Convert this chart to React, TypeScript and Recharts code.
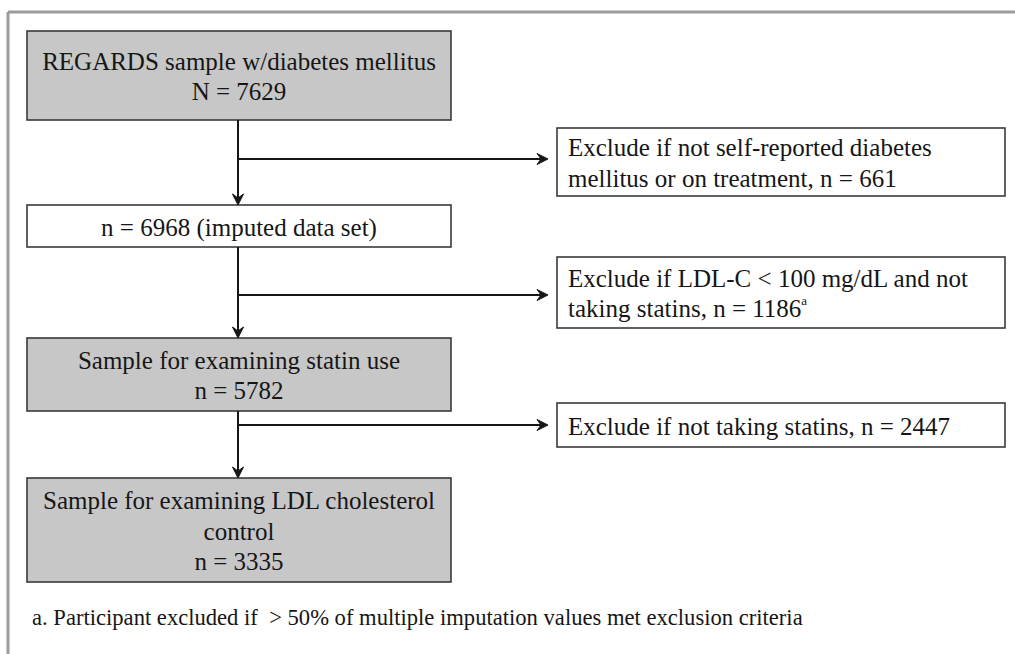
import React from "react";
import {
  ComposedChart,
  XAxis,
  YAxis,
  ReferenceArea,
  ReferenceLine,
  ReferenceDot,
} from "recharts";

const W = 1015;
const H = 654;
const FONT = '"Liberation Serif", "Times New Roman", serif';
const INK = "#161616";

// sample sizes at each step
const stepCounts = [7629, 6968, 5782, 3335];
const stepPrefix = ["N", "n", "n", "n"];
const stepTitles = [
  ["REGARDS sample w/diabetes mellitus"],
  [],
  ["Sample for examining statin use"],
  ["Sample for examining LDL cholesterol", "control"],
];
const stepSuffix = ["", " (imputed data set)", "", ""];
const stepShaded = [true, false, true, true];

// exclusions between steps
const excludedCounts = [661, 1186, 2447];
const exclusionText = [
  ["Exclude if not self-reported diabetes", "mellitus or on treatment, n = "],
  ["Exclude if LDL-C < 100 mg/dL and not", "taking statins, n = "],
  ["Exclude if not taking statins, n = "],
];
const exclusionNote = ["", "a", ""];

const footnote =
  "a. Participant excluded if  > 50% of multiple imputation values met exclusion criteria";

// layout (pixel units of the hidden axes)
const stepBox = { x1: 27, x2: 451 };
const stepRows = [
  [31, 120],
  [205, 247],
  [338, 411],
  [478, 582],
];
const exclBox = { x1: 557, x2: 1005 };
const exclRows = [
  [128, 196],
  [257, 328],
  [403, 447],
];
const branchY = [159, 295, 425];
const trunkX = 238;
const arrowTipX = 548;

function stepLines(i: number) {
  return [...stepTitles[i], `${stepPrefix[i]} = ${stepCounts[i]}${stepSuffix[i]}`];
}

function BoxShape(props: any) {
  const { x, y, width, height, lines, shaded, align, note } = props;
  const lh = 30.5;
  const cy = y + height / 2 + 1;
  const top = cy - ((lines.length - 1) * lh) / 2;
  const tx = align === "left" ? x + 11 : x + width / 2;
  return (
    <g>
      <rect
        x={x}
        y={y}
        width={width}
        height={height}
        fill={shaded ? "#c7c7c7" : "#ffffff"}
        stroke="#3a3a3a"
        strokeWidth={1.6}
      />
      <text
        fontFamily={FONT}
        fontSize={25}
        fill={INK}
        textAnchor={align === "left" ? "start" : "middle"}
      >
        {lines.map((l: string, k: number) => (
          <tspan key={k} x={tx} y={top + k * lh} dominantBaseline="central">
            {l}
            {k === lines.length - 1 && note ? (
              <tspan fontSize={13} dy={-8}>
                {note}
              </tspan>
            ) : null}
          </tspan>
        ))}
      </text>
    </g>
  );
}

function ArrowHead(props: any) {
  const { cx, cy, dir } = props;
  if (cx == null || cy == null) return null;
  const d =
    dir === "down"
      ? `M${cx - 5.5},${cy - 11} L${cx},${cy} L${cx + 5.5},${cy - 11} L${cx},${cy - 7} Z`
      : `M${cx - 11},${cy - 5.5} L${cx},${cy} L${cx - 11},${cy + 5.5} L${cx - 7},${cy} Z`;
  return <path d={d} fill={INK} stroke={INK} strokeWidth={1} strokeLinejoin="round" />;
}

function FootnoteShape(props: any) {
  const { x, y, height } = props;
  return (
    <text
      x={x}
      y={y + height / 2}
      dominantBaseline="central"
      fontFamily={FONT}
      fontSize={22.6}
      fill={INK}
      style={{ whiteSpace: "pre" }}
    >
      {footnote}
    </text>
  );
}

export default function App() {
  return (
    <div style={{ position: "absolute", left: 0, top: 0, background: "#fff" }}>
      <ComposedChart
        width={W}
        height={H}
        margin={{ top: 0, right: 0, bottom: 0, left: 0 }}
      >
        <XAxis type="number" dataKey="x" domain={[0, W]} hide allowDataOverflow />
        <YAxis type="number" domain={[0, H]} reversed hide allowDataOverflow />

        {/* outer frame */}
        <ReferenceLine
          segment={[{ x: 8, y: 12 }, { x: W, y: 12 }]}
          stroke="#9b9b9b"
          strokeWidth={3}
          ifOverflow="visible"
        />
        <ReferenceLine
          segment={[{ x: 8, y: 12 }, { x: 8, y: H }]}
          stroke="#9b9b9b"
          strokeWidth={3}
          ifOverflow="visible"
        />

        {/* trunk segments with arrows */}
        {stepRows.slice(1).map((row, i) => (
          <ReferenceLine
            key={`t${i}`}
            segment={[
              { x: trunkX, y: stepRows[i][1] },
              { x: trunkX, y: row[0] - 3 },
            ]}
            stroke={INK}
            strokeWidth={2}
            ifOverflow="visible"
          />
        ))}
        {stepRows.slice(1).map((row, i) => (
          <ReferenceDot
            key={`ta${i}`}
            x={trunkX}
            y={row[0]}
            ifOverflow="visible"
            shape={(p: any) => <ArrowHead {...p} dir="down" />}
          />
        ))}

        {/* branches to exclusion boxes */}
        {branchY.map((by, i) => (
          <ReferenceLine
            key={`b${i}`}
            segment={[
              { x: trunkX, y: by },
              { x: arrowTipX - 3, y: by },
            ]}
            stroke={INK}
            strokeWidth={2}
            ifOverflow="visible"
          />
        ))}
        {branchY.map((by, i) => (
          <ReferenceDot
            key={`ba${i}`}
            x={arrowTipX}
            y={by}
            ifOverflow="visible"
            shape={(p: any) => <ArrowHead {...p} dir="right" />}
          />
        ))}

        {/* step boxes */}
        {stepRows.map((row, i) => (
          <ReferenceArea
            key={`s${i}`}
            x1={stepBox.x1}
            x2={stepBox.x2}
            y1={row[0]}
            y2={row[1]}
            ifOverflow="visible"
            shape={(p: any) => (
              <BoxShape
                {...p}
                lines={stepLines(i)}
                shaded={stepShaded[i]}
                align="center"
              />
            )}
          />
        ))}

        {/* exclusion boxes */}
        {exclRows.map((row, i) => {
          const lines = exclusionText[i].slice();
          lines[lines.length - 1] = lines[lines.length - 1] + excludedCounts[i];
          return (
            <ReferenceArea
              key={`e${i}`}
              x1={exclBox.x1}
              x2={exclBox.x2}
              y1={row[0]}
              y2={row[1]}
              ifOverflow="visible"
              shape={(p: any) => (
                <BoxShape
                  {...p}
                  lines={lines}
                  shaded={false}
                  align="left"
                  note={exclusionNote[i]}
                />
              )}
            />
          );
        })}

        {/* footnote */}
        <ReferenceArea
          x1={32}
          x2={1000}
          y1={603}
          y2={631}
          ifOverflow="visible"
          shape={(p: any) => <FootnoteShape {...p} />}
        />
      </ComposedChart>
    </div>
  );
}
